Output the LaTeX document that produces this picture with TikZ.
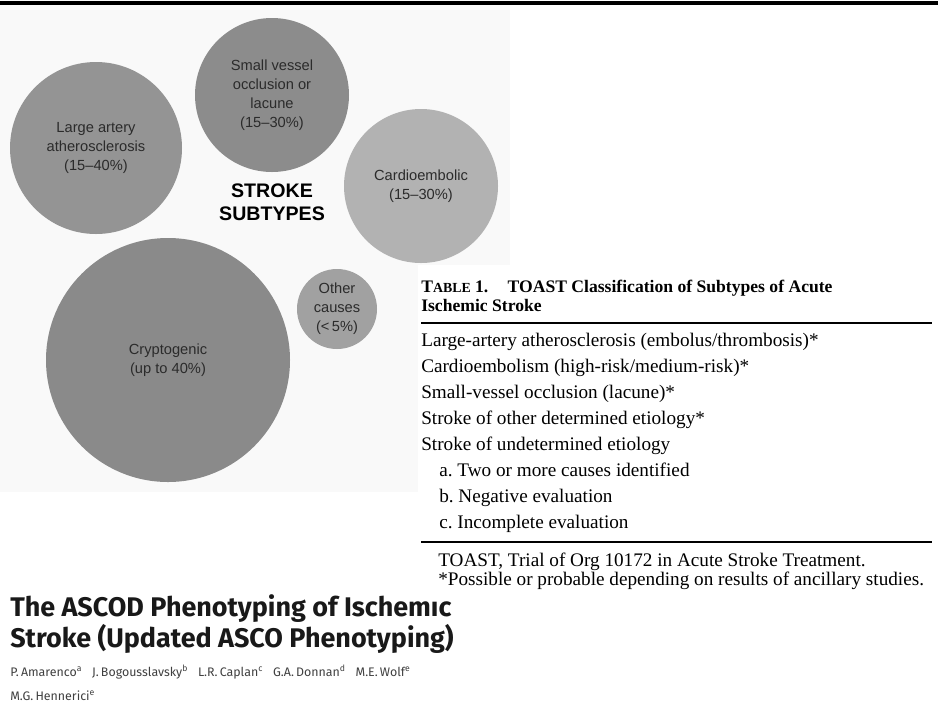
\documentclass[tikz,border=0pt]{standalone}
\usepackage{fontspec}
\setmainfont{Liberation Serif}
\setsansfont{Liberation Sans}
\newfontfamily\headfont{Fira Sans}
\usetikzlibrary{positioning}

\definecolor{panelbg}{gray}{0.975}
\definecolor{bubtext}{gray}{0.17}
\definecolor{bublarge}{gray}{0.58}
\definecolor{bubsmall}{gray}{0.55}
\definecolor{bubcardio}{gray}{0.70}
\definecolor{bubcrypto}{gray}{0.54}
\definecolor{bubother}{gray}{0.63}
\definecolor{authgray}{gray}{0.25}

\tikzset{
  bubble/.style={circle,inner sep=0pt,align=center,text=bubtext,
    font=\sffamily\fontsize{11}{14.25}\selectfont},
  tabrow/.style={anchor=base west,inner sep=0pt,font=\fontsize{14.4}{16}\selectfont},
  tabhead/.style={anchor=base west,inner sep=0pt,font=\bfseries\fontsize{13.2}{15}\selectfont},
  tabrule/.style={line width=1.5pt}
}

\begin{document}
\begin{tikzpicture}[line cap=butt,x=0.75pt,y=-0.75pt]
	\useasboundingbox (0,0) rectangle (938,715);
	\fill[white] (0,0) rectangle (938,715);
	% figure panel and the table pasted on it
	\fill[panelbg] (0,10) rectangle (510,492);
	\fill[white] (418,265) rectangle (938,600);
	\draw[line width=2.3pt] (0,3) -- (938,3);
	% bubbles
	\node[bubble,fill=bublarge,minimum size=129pt] (large) at (96,148) {Large artery\\atherosclerosis\\(15--40\%)};
	\node[bubble,fill=bubsmall,minimum size=115.5pt] (small) at (272,95) {Small vessel\\occlusion or\\lacune\\(15--30\%)};
	\node[bubble,fill=bubcardio,minimum size=115.5pt] (cardio) at (421,186) {Cardioembolic\\(15--30\%)};
	\node[bubble,fill=bubcrypto,minimum size=183pt] (crypto) at (168,360) {Cryptogenic\\(up to 40\%)};
	\node[bubble,fill=bubother,minimum size=60pt] (other) at (337,309) {Other\\causes\\(\textless\,5\%)};
	\node[align=center,inner sep=0pt,font=\sffamily\bfseries\fontsize{14.7}{17.6}\selectfont] (subtypes) at (272,202) {STROKE\\SUBTYPES};
	% table 1
	\node[tabhead] (tabtitle) at (421,292) {T{\fontsize{10.4}{12}\selectfont ABLE} 1.\hspace{1.1em}TOAST Classification of Subtypes of Acute};
	\node[tabhead] (tabtitleb) at (421,311) {Ischemic Stroke};
	\draw[tabrule] (421,323) -- (932,323);
	\node[tabrow] (rowlaa) at (421,346) {Large-artery atherosclerosis (embolus/thrombosis)*};
	\node[tabrow] (rowce) at (421,372) {Cardioembolism (high-risk/medium-risk)*};
	\node[tabrow] (rowsvo) at (421,398) {Small-vessel occlusion (lacune)*};
	\node[tabrow] (rowoth) at (421,424) {Stroke of other determined etiology*};
	\node[tabrow] (rowund) at (421,450) {Stroke of undetermined etiology};
	\node[tabrow] (rowa) at (439,476) {a.\ Two or more causes identified};
	\node[tabrow] (rowb) at (439,502) {b.\ Negative evaluation};
	\node[tabrow] (rowc) at (439,528) {c.\ Incomplete evaluation};
	\draw[tabrule] (421,542) -- (932,542);
	\node[tabrow] (notea) at (438,566) {TOAST, Trial of Org 10172 in Acute Stroke Treatment.};
	\node[tabrow] (noteb) at (438,585) {*Possible or probable depending on results of ancillary studies.};
	% paper heading
	\node[anchor=west,align=left,inner sep=0pt,text=black!90,font=\headfont\bfseries\fontsize{20.2}{21}\selectfont] (heading) at (10,624) {The ASCOD Phenotyping of Ischemıc\\Stroke (Updated ASCO Phenotyping)};
	\node[anchor=west,align=left,inner sep=0pt,text=authgray,font=\headfont\fontsize{9.3}{18}\selectfont] (authors) at (10,683) {P.\,Amarenco\textsuperscript{a}\hspace{0.8em}J.\,Bogousslavsky\textsuperscript{b}\hspace{0.8em}L.R.\,Caplan\textsuperscript{c}\hspace{0.8em}G.A.\,Donnan\textsuperscript{d}\hspace{0.8em}M.E.\,Wolf\textsuperscript{e}\\M.G.\,Hennerici\textsuperscript{e}};
\end{tikzpicture}
\end{document}
